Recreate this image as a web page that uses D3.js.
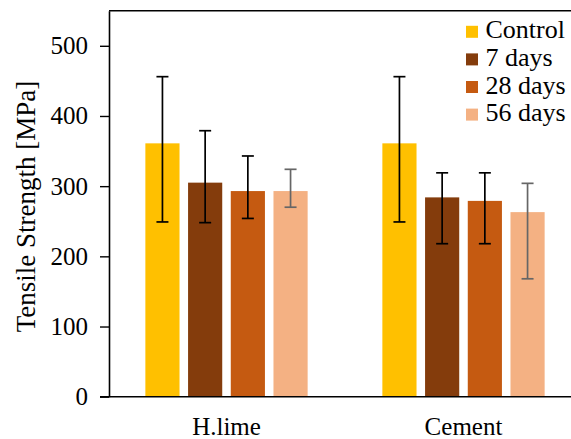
<!DOCTYPE html>
<html>
<head>
<meta charset="utf-8">
<script src="https://cdn.jsdelivr.net/npm/d3@7/dist/d3.min.js"></script>
<style>
  html, body { margin: 0; padding: 0; background: #fff; }
  svg { display: block; }
</style>
</head>
<body>
<svg id="chart" width="571" height="439"></svg>
<script>
// Tensile strength by binder and curing age
const groups = ["H.lime", "Cement"];
const series = ["Control", "7 days", "28 days", "56 days"];
const colors = ["#FFC000", "#843C0C", "#C55A11", "#F4B183"];
const errColors = ["#000", "#000", "#000", "#666"];
const means = {
  "H.lime": [361, 305, 293, 293],
  "Cement": [361, 284, 279, 263]
};
const errLow = {
  "H.lime": [249, 248, 254, 270],
  "Cement": [249, 218, 218, 168]
};
const errHigh = {
  "H.lime": [456, 379, 343, 324],
  "Cement": [456, 319, 319, 304]
};
const yTicks = [0, 100, 200, 300, 400, 500];

const FONT = "Liberation Serif";
const svg = d3.select("#chart");
const plotLeft = 109, plotTop = 10.7, plotBottom = 396.7, plotRight = 582;

const x0 = d3.scaleBand().domain(groups).range([plotLeft - 1, plotRight]).padding(0);
const x1 = d3.scaleBand().domain(series).range([0, x0.bandwidth()])
  .paddingInner(0.2).paddingOuter(0.875);
const y = d3.scaleLinear().domain([0, 550]).range([plotBottom, plotTop]);

// bars
const g = svg.append("g");
groups.forEach(grp => {
  series.forEach((s, i) => {
    const bx = x0(grp) + x1(s);
    g.append("rect")
      .attr("x", bx)
      .attr("y", y(means[grp][i]))
      .attr("width", x1.bandwidth())
      .attr("height", y(0) - y(means[grp][i]))
      .attr("fill", colors[i]);
  });
});

// error bars
groups.forEach(grp => {
  series.forEach((s, i) => {
    const cx = x0(grp) + x1(s) + x1.bandwidth() / 2;
    const eg = svg.append("g").attr("stroke", errColors[i]).attr("stroke-width", 1.7);
    eg.append("line").attr("x1", cx).attr("x2", cx)
      .attr("y1", y(errLow[grp][i])).attr("y2", y(errHigh[grp][i]));
    [errLow[grp][i], errHigh[grp][i]].forEach(v => {
      eg.append("line").attr("x1", cx - 6).attr("x2", cx + 6)
        .attr("y1", y(v)).attr("y2", y(v));
    });
  });
});

// y axis
const yAxis = svg.append("g")
  .attr("transform", `translate(${plotLeft},0)`)
  .call(d3.axisLeft(y).tickValues(yTicks).tickSize(9).tickSizeOuter(0).tickPadding(12));
yAxis.attr("font-family", FONT);
yAxis.select(".domain").attr("stroke", "#000").attr("stroke-width", 1.6);
yAxis.selectAll(".tick line").attr("stroke", "#000").attr("stroke-width", 1.4);
yAxis.selectAll("text").attr("font-size", 25).attr("font-family", FONT).attr("fill", "#000");

// top frame line and baseline
svg.append("line").attr("x1", plotLeft).attr("x2", 571)
  .attr("y1", plotTop).attr("y2", plotTop).attr("stroke", "#000").attr("stroke-width", 1.4);
svg.append("line").attr("x1", plotLeft - 9).attr("x2", 571)
  .attr("y1", plotBottom).attr("y2", plotBottom).attr("stroke", "#000").attr("stroke-width", 1.6);

// category labels
groups.forEach(grp => {
  svg.append("text")
    .attr("x", x0(grp) + x0.bandwidth() / 2)
    .attr("y", 435)
    .attr("text-anchor", "middle")
    .attr("font-family", FONT)
    .attr("font-size", 25)
    .text(grp);
});

// y axis title
svg.append("text")
  .attr("transform", `translate(35,206.5) rotate(-90)`)
  .attr("text-anchor", "middle")
  .attr("font-family", FONT)
  .attr("font-size", 27)
  .text("Tensile Strength [MPa]");

// legend
const lg = svg.append("g").attr("transform", "translate(466,0)");
series.forEach((s, i) => {
  const by = 38.3 + i * 27.6;
  lg.append("rect").attr("x", 0).attr("y", by - 12.5).attr("width", 12).attr("height", 12)
    .attr("fill", colors[i]);
  lg.append("text").attr("x", 19.5).attr("y", by)
    .attr("font-family", FONT).attr("font-size", 26).text(s);
});
</script>
</body>
</html>
